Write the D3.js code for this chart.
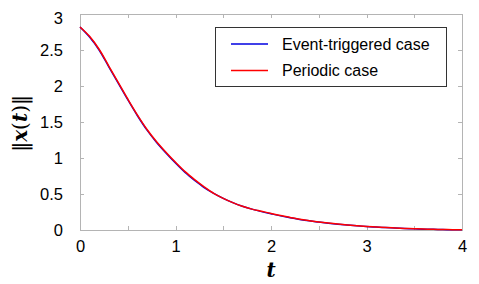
<!doctype html>
<html>
  <head>
    <title>Norm of state</title>
    <style>
      body { margin: 0; background: #fff; }
      text { font-family: 'Liberation Sans', Arial, sans-serif; }
    </style>
  </head>
  <body>
    <svg width='479' height='284'></svg>

  <script src='https://d3js.org/d3.v7.min.js'></script>
  <script>
// Time samples and the two trajectories.
var times = [0, 0.1, 0.2, 0.3, 0.4, 0.5, 0.6, 0.7, 0.8, 0.9, 1.0,
  1.1, 1.2, 1.3, 1.4, 1.5, 1.6, 1.7, 1.8, 1.9, 2.0,
  2.1, 2.2, 2.3, 2.4, 2.5, 2.6, 2.7, 2.8, 2.9, 3.0,
  3.1, 3.2, 3.3, 3.4, 3.5, 3.6, 3.7, 3.8, 3.9, 4.0];
var periodic = [2.82, 2.69, 2.51, 2.28, 2.05, 1.82, 1.60, 1.40, 1.23, 1.08, 0.94,
  0.81, 0.70, 0.60, 0.51, 0.44, 0.38, 0.33, 0.29, 0.26, 0.23,
  0.20, 0.175, 0.15, 0.13, 0.112, 0.096, 0.082, 0.07, 0.06, 0.05,
  0.042, 0.035, 0.028, 0.022, 0.017, 0.013, 0.01, 0.007, 0.004, 0.002];
var eventTriggered = [2.82, 2.68, 2.50, 2.27, 2.04, 1.81, 1.59, 1.39, 1.22, 1.07, 0.93,
  0.80, 0.69, 0.59, 0.51, 0.44, 0.38, 0.33, 0.29, 0.255, 0.225,
  0.196, 0.17, 0.147, 0.127, 0.11, 0.094, 0.08, 0.068, 0.058, 0.048,
  0.04, 0.033, 0.027, 0.021, 0.016, 0.012, 0.009, 0.006, 0.004, 0.002];
var xTicks = [0, 1, 2, 3, 4];
var yTicks = [0, 0.5, 1, 1.5, 2, 2.5, 3];
var seriesNames = ['Event-triggered case', 'Periodic case'];
var seriesColors = ['#0000e0', '#ff0000'];

var svg = d3.select('svg'),
  margin = {left: 80, right: 17, top: 14, bottom: 54},
  width = +svg.attr('width') - margin.left - margin.right,
  height = +svg.attr('height') - margin.top - margin.bottom;

var x = d3.scaleLinear().domain([0, 4]).range([margin.left, margin.left + width]);
var y = d3.scaleLinear().domain([0, 3]).range([margin.top + height, margin.top]);

var grey = '#b4b4b4';

// Frame
svg.append('rect')
  .attr('x', x(0)).attr('y', y(3))
  .attr('width', width).attr('height', height)
  .attr('fill', 'none').attr('stroke', grey).attr('stroke-width', 1)
  .attr('shape-rendering', 'crispEdges');

// Inward ticks on all four sides, minor ticks at halves on the x axis
var xMinor = d3.range(0, 4.01, 0.5);
function styleAxis(g) {
  g.select('.domain').remove();
  g.selectAll('line').attr('stroke', grey).attr('shape-rendering', 'crispEdges');
  g.selectAll('text').attr('fill', '#000').style('font-size', '16.5px');
}
svg.append('g').attr('transform', 'translate(0,' + y(0) + ')')
  .call(d3.axisBottom(x).tickValues(xMinor).tickSizeInner(-4).tickSizeOuter(0)
    .tickFormat(function(d) { return xTicks.indexOf(d) >= 0 ? d : ''; }).tickPadding(10))
  .call(styleAxis);
svg.append('g').attr('transform', 'translate(0,' + y(3) + ')')
  .call(d3.axisTop(x).tickValues(xMinor).tickSizeInner(-4).tickSizeOuter(0).tickFormat(''))
  .call(styleAxis);
svg.append('g').attr('transform', 'translate(' + x(0) + ',0)')
  .call(d3.axisLeft(y).tickValues(yTicks).tickSizeInner(-4).tickSizeOuter(0)
    .tickFormat(d3.format('')).tickPadding(17))
  .call(styleAxis)
  .selectAll('.tick text')
  .attr('dy', function(d) { return d === 3 ? '0.55em' : '0.32em'; });
svg.append('g').attr('transform', 'translate(' + x(4) + ',0)')
  .call(d3.axisRight(y).tickValues(yTicks).tickSizeInner(-4).tickSizeOuter(0).tickFormat(''))
  .call(styleAxis);

// Curves
var line = d3.line()
  .x(function(d, i) { return x(times[i]); })
  .y(function(d) { return y(d); })
  .curve(d3.curveCatmullRom);
[eventTriggered, periodic].forEach(function(vals, k) {
  svg.append('path')
    .attr('d', line(vals))
    .attr('fill', 'none')
    .attr('stroke', seriesColors[k])
    .attr('stroke-width', 1.5);
});

// Axis labels
svg.append('text')
  .attr('x', x(2)).attr('y', 277)
  .attr('text-anchor', 'middle')
  .style('font-family', "'DejaVu Serif', serif")
  .style('font-style', 'italic').style('font-weight', 'bold')
  .style('font-size', '20px')
  .text('t');

var ylab = svg.append('text')
  .attr('transform', 'translate(27,' + y(1.48) + ') rotate(-90)')
  .attr('text-anchor', 'middle')
  .style('font-family', "'DejaVu Serif', serif")
  .style('font-size', '20px');
ylab.append('tspan').text('\u2016');
ylab.append('tspan').style('font-style', 'italic').style('font-weight', 'bold').text('x');
ylab.append('tspan').text('(');
ylab.append('tspan').style('font-style', 'italic').style('font-weight', 'bold').text('t');
ylab.append('tspan').text(')\u2016');

// Legend
var legend = svg.append('g');
legend.append('rect')
  .attr('x', 215.5).attr('y', 27.5).attr('width', 231).attr('height', 59)
  .attr('fill', '#fff').attr('stroke', '#333').attr('stroke-width', 1);
seriesNames.forEach(function(name, k) {
  var ly = 44 + k * 26.5;
  legend.append('line')
    .attr('x1', 231).attr('x2', 268).attr('y1', ly).attr('y2', ly)
    .attr('stroke', seriesColors[k]).attr('stroke-width', 1.3);
  legend.append('text')
    .attr('x', 282).attr('y', ly + 5.5)
    .style('font-size', '16px')
    .text(name);
});
  </script>
  </body>
</html>
